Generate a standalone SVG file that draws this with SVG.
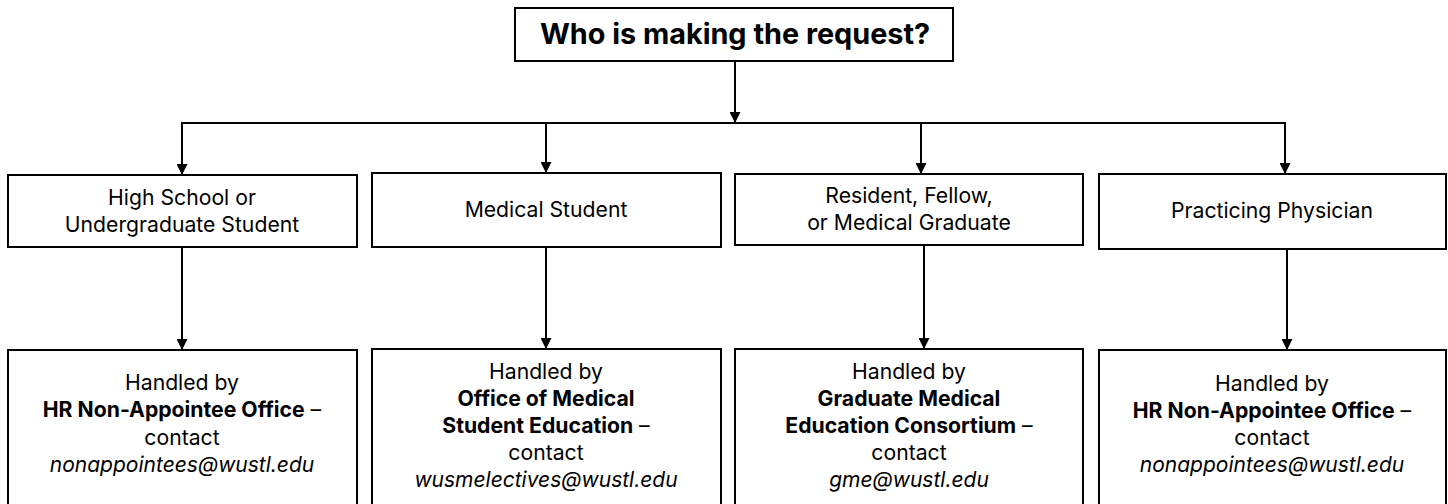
<svg xmlns="http://www.w3.org/2000/svg" width="1448" height="504" viewBox="0 0 1448 504">
<defs>
<marker id="tri" markerUnits="userSpaceOnUse" markerWidth="11" markerHeight="11" viewBox="0 0 11 11" refX="11" refY="5.5" orient="auto">
<path d="M0,0 L11,5.5 L0,11 Z" fill="#000"/>
</marker>
</defs>
<style>
.box{fill:#fff;stroke:#000;stroke-width:2}
.ln{fill:none;stroke:#000;stroke-width:2}
.arr{fill:none;stroke:#000;stroke-width:2;marker-end:url(#tri)}
text{font-family:Inter,"Noto Sans","Liberation Sans",sans-serif;fill:#000;text-anchor:middle}
.t1{font-size:28.8px;font-weight:bold}
.t2{font-size:21.2px}
.t3{font-size:21.2px}
.b{font-weight:bold}
.i{font-style:italic;font-size:21px}
</style>
<rect width="1448" height="504" fill="#fff"/>
<g id="connectors">
<line class="arr" x1="735" y1="61" x2="735" y2="123"/>
<line class="ln" x1="181" y1="123" x2="1286" y2="123"/>
<line class="arr" x1="182" y1="123" x2="182" y2="175"/>
<line class="arr" x1="546" y1="123" x2="546" y2="173"/>
<line class="arr" x1="921" y1="123" x2="921" y2="174"/>
<line class="arr" x1="1285" y1="123" x2="1285" y2="174"/>
<line class="arr" x1="182" y1="247" x2="182" y2="350"/>
<line class="arr" x1="546" y1="247" x2="546" y2="349"/>
<line class="arr" x1="924" y1="245" x2="924" y2="349"/>
<line class="arr" x1="1287" y1="249" x2="1287" y2="350"/>
</g>
<g id="root">
<rect class="box" x="515" y="8" width="438" height="53"/>
<text class="t1" x="735" y="44">Who is making the request?</text>
</g>
<g id="n1">
<rect class="box" x="8" y="175" width="349" height="72"/>
<text class="t2" x="182" y="205">High School or</text>
<text class="t2" x="182" y="232">Undergraduate Student</text>
</g>
<g id="n2">
<rect class="box" x="372" y="173" width="349" height="74"/>
<text class="t2" x="546" y="217">Medical Student</text>
</g>
<g id="n3">
<rect class="box" x="735" y="174" width="348" height="71"/>
<text class="t2" x="909" y="203">Resident, Fellow,</text>
<text class="t2" x="909" y="230">or Medical Graduate</text>
</g>
<g id="n4">
<rect class="box" x="1099" y="174" width="347" height="75"/>
<text class="t2" x="1272" y="218">Practicing Physician</text>
</g>
<g id="h1">
<rect class="box" x="8" y="350" width="349" height="170"/>
<text class="t3" x="182" y="390">Handled by</text>
<text class="t3" x="182" y="417"><tspan class="b">HR Non-Appointee Office</tspan> –</text>
<text class="t3" x="182" y="445">contact</text>
<text class="t3 i" x="182" y="472">nonappointees@wustl.edu</text>
</g>
<g id="h2">
<rect class="box" x="372" y="349" width="349" height="170"/>
<text class="t3" x="546" y="379">Handled by</text>
<text class="t3 b" x="546" y="406">Office of Medical</text>
<text class="t3" x="546" y="433"><tspan class="b">Student Education</tspan> –</text>
<text class="t3" x="546" y="460">contact</text>
<text class="t3 i" x="546" y="487">wusmelectives@wustl.edu</text>
</g>
<g id="h3">
<rect class="box" x="735" y="349" width="348" height="170"/>
<text class="t3" x="909" y="379">Handled by</text>
<text class="t3 b" x="909" y="406">Graduate Medical</text>
<text class="t3" x="909" y="433"><tspan class="b">Education Consortium</tspan> –</text>
<text class="t3" x="909" y="460">contact</text>
<text class="t3 i" x="909" y="487">gme@wustl.edu</text>
</g>
<g id="h4">
<rect class="box" x="1099" y="350" width="347" height="170"/>
<text class="t3" x="1272" y="391">Handled by</text>
<text class="t3" x="1272" y="418"><tspan class="b">HR Non-Appointee Office</tspan> –</text>
<text class="t3" x="1272" y="445">contact</text>
<text class="t3 i" x="1272" y="472">nonappointees@wustl.edu</text>
</g>
</svg>
